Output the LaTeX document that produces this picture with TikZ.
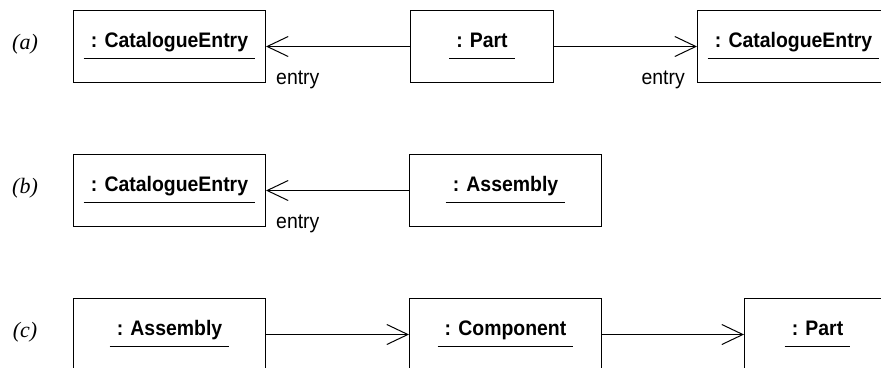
\documentclass[tikz,border=0pt]{standalone}
\usepackage{fontspec}
\setmainfont{Liberation Sans}
\newfontfamily\objfont[FakeStretch=0.925]{Liberation Sans}
\newfontfamily\tagfont{Liberation Serif}
\usetikzlibrary{arrows.meta}

\tikzset{
  obj/.style={draw, line width=1bp, rectangle, inner sep=0pt,
              anchor=north west, minimum height=72bp},
  objname/.style={font=\fontsize{21bp}{25bp}\selectfont\objfont\bfseries,
                  inner xsep=7bp, inner ysep=0pt, anchor=base},
  rolename/.style={font=\fontsize{21bp}{25bp}\selectfont\objfont, inner sep=0pt},
  tag/.style={font=\fontsize{22bp}{26bp}\selectfont\tagfont\itshape,
              anchor=base, inner sep=0pt},
  link/.style={line width=1bp,
               -{Straight Barb[length=21bp,width=20bp,line width=1bp]}},
  uline/.style={line width=1bp}
}

% object box: name, left, top, width, underlined object name
\newcommand{\objbox}[5]{%
  \node[obj, minimum width=#4bp] (#1) at (#2,#3) {};
  \node[objname] (#1-n) at ([yshift=-37bp]#1.north) {#5};
  \draw[uline] ([yshift=-11bp]#1-n.base west) -- ([yshift=-11bp]#1-n.base east);
}

\begin{document}
\begin{tikzpicture}[x=1bp, y=-1bp]
  \useasboundingbox (0,0) rectangle (881,367);

  % (a)
  \node[tag] (ta) at (25,49) {(a)};
  \objbox{a1}{73}{10}{192}{: CatalogueEntry}
  \objbox{a2}{410}{10}{143}{: Part}
  \objbox{a3}{697}{10}{192}{: CatalogueEntry}
  \draw[link] (a2) -- (a1);
  \draw[link] (a2) -- (a3);
  \node[rolename, anchor=base west] (ra1) at ([xshift=10bp, yshift=-1bp]a1.south east) {entry};
  \node[rolename, anchor=base east] (ra3) at ([xshift=-12bp, yshift=-1bp]a3.south west) {entry};

  % (b)
  \node[tag] (tb) at (25,193) {(b)};
  \objbox{b1}{73}{154}{192}{: CatalogueEntry}
  \objbox{b2}{409}{154}{192}{: Assembly}
  \draw[link] (b2) -- (b1);
  \node[rolename, anchor=base west] (rb1) at ([xshift=10bp, yshift=-1bp]b1.south east) {entry};

  % (c)
  \node[tag] (tc) at (25,337) {(c)};
  \objbox{c1}{73}{298}{192}{: Assembly}
  \objbox{c2}{409}{298}{192}{: Component}
  \objbox{c3}{744}{298}{146}{: Part}
  \draw[link] (c1) -- (c2);
  \draw[link] (c2) -- (c3);
\end{tikzpicture}
\end{document}
